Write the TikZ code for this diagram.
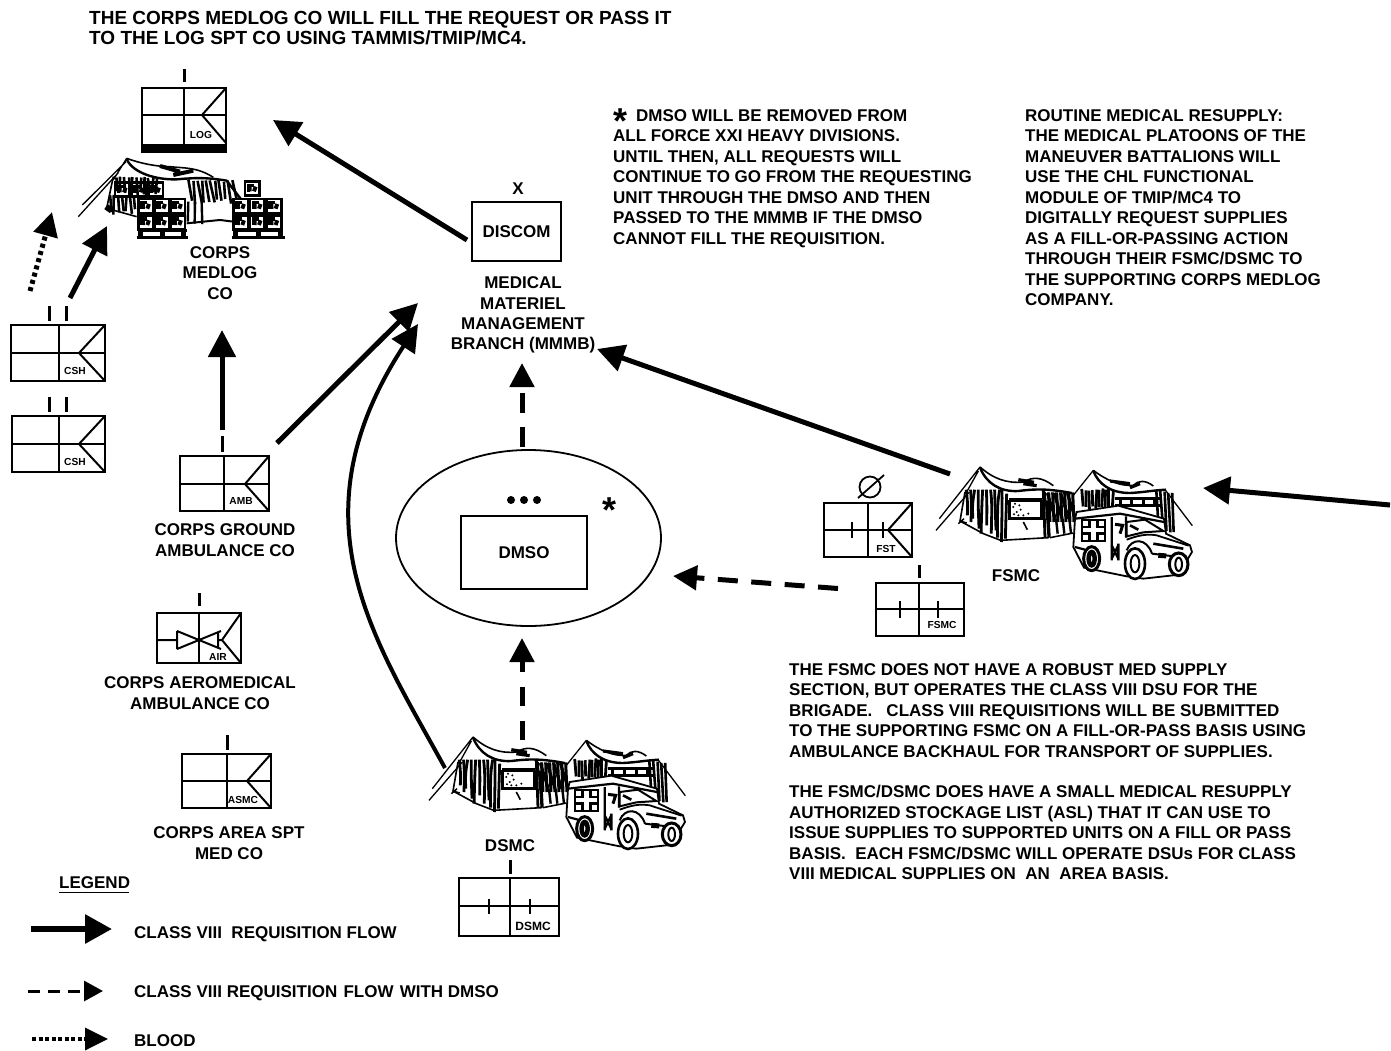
\documentclass[tikz,border=0pt]{standalone}
\usepackage{fontspec}
\setmainfont{Liberation Sans}
\usetikzlibrary{arrows.meta}
\tikzset{
  txt/.style={font=\bfseries\fontsize{17}{20.5}\selectfont,inner sep=0pt,align=left,anchor=north west},
  ctxt/.style={font=\bfseries\fontsize{17}{20.3}\selectfont,inner sep=0pt,align=center},
  small/.style={font=\bfseries\fontsize{10.2}{12}\selectfont,inner sep=0pt},
  starmark/.style={inner sep=0pt,font=\bfseries\fontsize{36}{36}\selectfont},
  ubox/.style={draw,line width=2pt,inner sep=0pt,fill=white},
  inner/.style={line width=2pt},
  tick/.style={line width=3pt},
  solidflow/.style={line width=5pt,-{Triangle[length=27pt,width=27pt]}},
  dashflow/.style={line width=5pt,dash pattern=on 19.5pt off 14.5pt,-{Triangle[length=24pt,width=24pt]}},
  dotflow/.style={line width=5pt,dash pattern=on 4pt off 3.5pt,-{Triangle[length=24pt,width=24pt]}},
}
% name, x1, y1, x2, y2, vertical x, middle y
\newcommand\unitbox[7]{%
  \pgfmathsetmacro\ubw{#4-#2}\pgfmathsetmacro\ubh{#5-#3}%
  \pgfmathsetmacro\ubx{(#2+#4)/2}\pgfmathsetmacro\uby{(#3+#5)/2}%
  \node[ubox,minimum width=\ubw pt,minimum height=\ubh pt] (#1) at (\ubx,\uby) {};
  \draw[inner] (#6,#3) -- (#6,#5) (#2,#7) -- (#4,#7);
}
% x2, y1, vertex x, middle y, y2
\newcommand\unitbracket[5]{\draw[inner] (#1,#2) -- (#3,#4) -- (#1,#5);}
\newcommand\crate[2]{%
  \draw[line width=2.4pt,fill=white] (#1,#2) rectangle ++(44,42);
  \draw[line width=3.6pt] (#1+10,#2+30) -- (#1+10,#2+11) -- (#1+26,#2+11);
  \draw[line width=5pt] (#1+24,#2+20) -- (#1+35,#2+24) (#1+14,#2+22) -- (#1+20,#2+22);
}
\newcommand\tenttruck[1]{%
\begin{scope}[shift={(#1)},x=.3333pt,y=-.3333pt,shift={(-510,-50)}]
  \pgfmathsetseed{41}
  \draw[line width=1.3pt] (510,50) -- (388,205) (378,240) -- (478,125) (505,62) -- (470,125);
  \draw[line width=1.6pt] (510,50) .. controls (550,85) and (590,100) .. (640,95) .. controls (670,78) and (695,80) .. (730,106);
  \draw[line width=2.4pt] (510,52) .. controls (530,100) and (570,125) .. (625,122) .. controls (660,118) and (700,112) .. (785,128);
  \draw[line width=3.2pt] (625,88) -- (672,96) (640,100) -- (680,106);
  \draw[line width=1.6pt] (465,125) -- (450,212) -- (520,250) -- (572,270) -- (715,262) -- (705,125);
  \foreach \q/\r in {468/195,480/215,492/205,504/235,516/250,528/225,540/250,554/240,566/262,576/275}
    \draw[line width=2.8pt] ({\q+3*rand},118) .. controls ({\q+6*rand},160) .. ({\q+5*rand},\r);
  \draw[line width=1.5pt] (450,212) -- (470,218) (445,220) -- (462,205);
  \draw[line width=2.8pt] (590,130) -- (586,265) (700,120) -- (705,262) (712,150) -- (718,262);
  \draw[line width=2.6pt] (598,152) rectangle (695,205);
  \draw[line width=4pt] (598,150) -- (695,150);
  \foreach \q/\r in {610/170,620/185,632/178,640/195,655/190,625/195,615/160,628/165,612/192}
    \fill (\q,\r) circle (3.4);
  \draw[line width=1.6pt] (640,215) -- (652,238);
  \foreach \q in {716,728,...,790}
    \draw[line width=3pt] (\q,126) -- (\q+4,215);
  \foreach \q in {712,732,...,772}
    \draw[line width=3pt] (\q,128) -- (\q+24,205);
  \foreach \q in {738,758,778}
    \draw[line width=2.4pt] (\q,205) -- (\q+5,250);
  \draw[line width=1.6pt] (720,262) -- (790,248);
  % second tent
  \draw[line width=1.3pt] (790,135) -- (850,60) (1065,118) -- (1147,226);
  \draw[line width=1.6pt] (850,60) .. controls (890,90) and (930,108) .. (970,105) .. controls (985,90) and (1005,88) .. (1030,107);
  \draw[line width=2.4pt] (850,62) .. controls (865,100) and (900,128) .. (960,128) .. controls (1000,126) and (1030,120) .. (1068,118);
  \draw[line width=3.2pt] (900,92) -- (960,100) (960,112) -- (990,100);
  \foreach \q in {818,828,...,910}
    \draw[line width=2.8pt] ({\q+3*rand},{118+4*rand}) -- ({\q+3*rand},{172+6*rand});
  \draw[line width=3pt] (915,145) -- (1050,145) (915,165) -- (1050,165);
  \foreach \q in {930,965,1000,1035}
    \draw[line width=3pt] (\q,145) -- (\q,165);
  \foreach \q in {1040,1052,...,1092}
    \draw[line width=2.6pt] ({\q+3*rand},{122+6*rand}) -- ({\q+6+3*rand},{240+8*rand});
  % truck
  \draw[line width=1.8pt,fill=white] (795,205) -- (800,185) -- (925,166) -- (1062,205) -- (1068,250) -- (1140,285) -- (1146,305) -- (1132,328) -- (1130,360) -- (1090,375) -- (1000,385) -- (950,378) -- (822,352) -- (790,290) -- cycle;
  \draw[line width=2.2pt] (795,205) -- (930,190) -- (1062,215);
  \draw[line width=2.2pt] (905,200) -- (905,330) (948,198) -- (948,262) (795,290) -- (825,298);
  \draw[line width=2.2pt] (815,208) rectangle (885,272);
  \draw[line width=2.6pt] (838,208) -- (838,230) -- (815,230) (862,208) -- (862,230) -- (885,230) (815,250) -- (838,250) -- (838,272) (885,250) -- (862,250) -- (862,272);
  \draw[line width=2.4pt] (905,285) -- (925,325) (925,285) -- (905,325) (905,300) -- (925,300) (925,280) -- (925,330);
  \draw[line width=3pt] (915,222) -- (938,225) -- (930,250);
  \draw[line width=2pt] (950,215) -- (1005,208) -- (1060,242) -- (1000,246) -- (950,258) -- cycle;
  \draw[line width=1.8pt] (950,268) .. controls (985,255) and (1010,250) .. (1040,255) -- (1136,286);
  \draw[line width=2pt] (950,300) .. controls (965,262) and (1010,262) .. (1026,310) (1026,310) -- (1125,322);
  \draw[line width=2.6pt] (960,225) -- (985,238) (1030,280) -- (1120,295);
  \draw[line width=5pt,dash pattern=on 8pt off 6pt] (1045,315) -- (1115,320);
  \draw[line width=3pt,fill=white] (845,325) ellipse [x radius=24,y radius=36];
  \draw[line width=4.5pt] (845,325) ellipse [x radius=9,y radius=20];
  \draw[line width=3pt,fill=white] (1106,342) ellipse [x radius=28,y radius=34];
  \draw[line width=2pt] (1106,342) ellipse [x radius=10,y radius=20];
  \draw[line width=2.6pt,fill=white] (975,340) ellipse [x radius=30,y radius=46];
  \draw[line width=2pt] (975,340) ellipse [x radius=13,y radius=26];
\end{scope}}
\begin{document}
\begin{tikzpicture}[x=1pt,y=-1pt]
\useasboundingbox[fill=white] (0,0) rectangle (1391,1050);

% ---- free ends of the connectors
\coordinate (logTip) at (273,120);   \coordinate (discomOut) at (467,240);
\coordinate (bloodOut) at (30,291);  \coordinate (bloodTip) at (52,212);
\coordinate (cshOut) at (70,298);    \coordinate (medlogIn) at (107,226);
\coordinate (ambUpOut) at (222,430); \coordinate (coLabelIn) at (222,330);
\coordinate (ambOut) at (277,443);   \coordinate (mmmbInA) at (418,303);
\coordinate (dsmcOut) at (445,768);  \coordinate (mmmbInB) at (418,324);
\coordinate (dmsoUp) at (522,446.5); \coordinate (mmmbInC) at (522,363);
\coordinate (dsmcUp) at (522,740);   \coordinate (dmsoInB) at (522,638);
\coordinate (fsmcDash) at (838,588.5); \coordinate (dmsoInA) at (673,576);
\coordinate (fsmcOut) at (950,474);  \coordinate (mmmbInD) at (597,349);
\coordinate (rightOut) at (1390,505);\coordinate (fsmcIn) at (1203,488);
\coordinate (legA) at (31,929);      \coordinate (legAt) at (112,929);
\coordinate (legB) at (28,991);      \coordinate (legBt) at (103,991);
\coordinate (legC) at (32,1039);     \coordinate (legCt) at (108,1039);

% ---- top text
\node[txt,font=\bfseries\fontsize{19}{20.3}\selectfont] (topnote) at (89,11) {THE CORPS MEDLOG CO WILL FILL THE REQUEST OR PASS IT\\TO THE LOG SPT CO USING TAMMIS/TMIP/MC4.};

% ---- LOG unit
\draw[tick] (184,69) -- (184,82);
\unitbox{log}{142}{88}{226}{152}{184}{115}
\fill (142,143.5) rectangle (226,152.5);
\unitbracket{226}{88}{202}{115}{143}
\node[small] (loglbl) at (201,135) {LOG};

% ---- Corps MEDLOG tent and pallets
\begin{scope}[shift={(0,60)},x=.3333pt,y=-.3333pt]
  \pgfmathsetseed{17}
  \draw[line width=1.3pt] (247,435) -- (378,305) (235,470) -- (355,338) (380,295) -- (340,360);
  \draw[line width=1.6pt] (380,295) .. controls (420,310) and (470,320) .. (510,320) .. controls (550,325) and (590,320) .. (640,352);
  \draw[line width=2.4pt] (380,298) .. controls (400,340) and (470,360) .. (530,358) .. controls (570,355) and (610,350) .. (680,362) -- (725,420);
  \draw[line width=4pt] (480,318) -- (540,335) (520,345) -- (580,332);
  \draw[line width=1.6pt] (340,350) -- (320,445) -- (410,470);
  \draw[line width=6pt] (318,440) -- (335,452);
  \foreach \q in {332,344,...,405}
    \draw[line width=2.6pt] ({\q+3*rand},405) -- ({\q+5*rand},{455+10*rand});
  \foreach \q in {565,578,...,700}
    \draw[line width=2.6pt] ({\q+3*rand},{362+4*rand}) -- ({\q+12+6*rand},{425+8*rand});
  \foreach \q in {565,585,605}
    \draw[line width=2.4pt] (\q,425) -- ({\q+5*rand},{490+5*rand});
  \draw[line width=2pt] (560,490) -- (660,480) -- (700,485);
  \crate{345}{368}\crate{395}{368}\crate{445}{368}
  \foreach \q in {350,362,...,480}
    \draw[line width=2.6pt] ({\q+3*rand},{352+3*rand}) -- ({\q+4*rand},{395+14*rand});
  \foreach \q in {415,463,511}{\crate{\q}{417}\crate{\q}{466}}
  \foreach \q in {700,750,800}{\crate{\q}{417}\crate{\q}{466}}
  \crate{735}{365}
  \foreach \q/\r in {415/560,700/850}{
    \draw[line width=2.5pt] (\q,512) -- (\r,512);
    \draw[line width=3pt] (\q-5,533) -- (\r+5,533);
    \draw[line width=5pt] (\q+8,512) -- (\q+8,533) ({(\q+\r)/2},512) -- ({(\q+\r)/2},533) (\r-8,512) -- (\r-8,533);
  }
\end{scope}
\node[ctxt] (medloglbl) at (220,273) {CORPS\\MEDLOG\\CO};

% ---- CSH units
\draw[tick] (49,306) -- (49,321) (66,306) -- (66,321);
\unitbox{cshA}{11}{325}{105}{381}{58.5}{353}
\unitbracket{105}{325}{79}{353}{381}
\node[small] (cshAl) at (75,371) {CSH};
\draw[tick] (49,397) -- (49,412) (66,397) -- (66,412);
\unitbox{cshB}{12}{416}{105}{472}{58.5}{444}
\unitbracket{105}{416}{79}{444}{472}
\node[small] (cshBl) at (75,462) {CSH};

% ---- Ground ambulance
\draw[tick] (222,436) -- (222,452);
\unitbox{amb}{180}{456}{269}{511}{224}{484}
\unitbracket{269}{456}{245}{484}{511}
\node[small] (ambl) at (241,501) {AMB};
\node[ctxt] (amblbl) at (225,540) {CORPS GROUND\\AMBULANCE CO};

% ---- Air ambulance
\draw[tick] (199,593) -- (199,606);
\unitbox{air}{157}{613}{241}{663}{199}{663}
\draw[inner] (199,613) -- (199,663);
\unitbracket{241}{613}{222}{640}{663}
\draw[inner] (157,640) -- (177,640) (177,631) -- (221,649) (221,631) -- (177,649) (177,631) -- (177,649) (218,632) -- (218,648) (218,640) -- (222,640);
\node[small] (airl) at (218,657) {AIR};
\node[ctxt] (airlbl) at (200,693) {CORPS AEROMEDICAL\\AMBULANCE CO};

% ---- Area support
\draw[tick] (227,735) -- (227,750);
\unitbox{asmc}{182}{754}{271}{808}{227}{781}
\unitbracket{271}{754}{247}{781}{808}
\node[small] (asmcl) at (243,800) {ASMC};
\node[ctxt] (asmclbl) at (229,843) {CORPS AREA SPT\\MED CO};

% ---- DISCOM
\node[ctxt] (xlbl) at (518,189) {X};
\node[ubox,minimum width=89pt,minimum height=59pt,font=\bfseries\fontsize{17}{18}\selectfont] (discom) at (516.5,231.5) {\raisebox{-2.5pt}{DISCOM}};
\node[ctxt] (mmmblbl) at (523,315) {MEDICAL\\MATERIEL\\MANAGEMENT\\BRANCH (MMMB)};

% ---- DMSO ellipse
\draw[line width=1.8pt] (528.5,538) ellipse [x radius=132.5,y radius=88];
\foreach \q in {511,524,537} \fill (\q,500) circle (4);
\node[starmark] (starA) at (609,502) {\smash{\raisebox{-20pt}{*}}};
\node[ubox,minimum width=126pt,minimum height=73pt,font=\bfseries\fontsize{17}{18}\selectfont] (dmso) at (524,552.5) {\raisebox{-3.5pt}{DMSO}};

% ---- notes
\node[starmark] (starB) at (620,113) {\smash{\raisebox{-20pt}{*}}};
\node[txt] (noteAa) at (636,109) {DMSO WILL BE REMOVED FROM};
\node[txt] (noteA) at (613,129.5) {ALL FORCE XXI HEAVY DIVISIONS.\\UNTIL THEN, ALL REQUESTS WILL\\CONTINUE TO GO FROM THE REQUESTING\\UNIT THROUGH THE DMSO AND THEN\\PASSED TO THE MMMB IF THE DMSO\\CANNOT FILL THE REQUISITION.};
\node[txt] (noteB) at (1025,109) {ROUTINE MEDICAL RESUPPLY:\\THE MEDICAL PLATOONS OF THE\\MANEUVER BATTALIONS WILL\\USE THE CHL FUNCTIONAL\\MODULE OF TMIP/MC4 TO\\DIGITALLY REQUEST SUPPLIES\\AS A FILL-OR-PASSING ACTION\\THROUGH THEIR FSMC/DSMC TO\\THE SUPPORTING CORPS MEDLOG\\COMPANY.};
\node[txt] (noteC) at (789,663) {THE FSMC DOES NOT HAVE A ROBUST MED SUPPLY\\SECTION, BUT OPERATES THE CLASS VIII DSU FOR THE\\BRIGADE.\ \ \ CLASS VIII REQUISITIONS WILL BE SUBMITTED\\TO THE SUPPORTING FSMC ON A FILL-OR-PASS BASIS USING\\AMBULANCE BACKHAUL FOR TRANSPORT OF SUPPLIES.};
\node[txt] (noteD) at (789,785) {THE FSMC/DSMC DOES HAVE A SMALL MEDICAL RESUPPLY\\AUTHORIZED STOCKAGE LIST (ASL) THAT IT CAN USE TO\\ISSUE SUPPLIES TO SUPPORTED UNITS ON A FILL OR PASS\\BASIS.\ \ EACH FSMC/DSMC WILL OPERATE DSUs FOR CLASS\\VIII MEDICAL SUPPLIES ON\ \ AN\ \ AREA BASIS.};

% ---- tents with ambulances
\tenttruck{980,467}
\tenttruck{473,737}
\node[ctxt] (fsmclbl) at (1016,576) {FSMC};
\node[ctxt] (dsmclbl) at (510,846) {DSMC};

% ---- DSMC unit
\draw[tick] (510,860) -- (510,874);
\unitbox{dsmcu}{459}{878}{559}{936}{510}{906}
\draw[inner] (489,899) -- (489,914) (530,899) -- (530,914);
\node[small,font=\bfseries\fontsize{12}{12}\selectfont] (dsmcl) at (533,926) {DSMC};

% ---- FST
\draw[line width=1.8pt] (870,487) circle (10.5);
\draw[line width=1.8pt] (858,498) -- (884,475);
\unitbox{fst}{824}{503}{912}{557}{868}{530}
\unitbracket{912}{503}{888}{530}{557}
\draw[inner] (852,522) -- (852,538) (883,522) -- (883,538);
\node[small] (fstl) at (886,549) {FST};

% ---- FSMC unit
\draw[tick] (919,565) -- (919,578);
\unitbox{fsmcu}{876}{583}{964}{636}{919}{609}
\draw[inner] (900,601) -- (900,618) (938,601) -- (938,618);
\node[small] (fsmcl) at (942,625) {FSMC};

% ---- connectors
\draw[solidflow] (discomOut) -- (logTip);
\draw[dotflow] (bloodOut) -- (bloodTip);
\draw[solidflow] (cshOut) -- (medlogIn);
\draw[solidflow] (ambUpOut) -- (coLabelIn);
\draw[solidflow] (ambOut) -- (mmmbInA);
\draw[solidflow,line width=4pt] (dsmcOut) .. controls (375,640) and (290,520) .. (mmmbInB);
\draw[dashflow] (dmsoUp) -- (mmmbInC);
\draw[dashflow] (dsmcUp) -- (dmsoInB);
\draw[dashflow,dash pattern=on 20pt off 13.5pt] (fsmcDash) -- (dmsoInA);
\draw[solidflow] (fsmcOut) -- (mmmbInD);
\draw[solidflow] (rightOut) -- (fsmcIn);

% ---- legend
\node[txt,anchor=west] (legt) at (59,883) {LEGEND};
\draw[line width=1.2pt] (59,892.5) -- (129,892.5);
\draw[line width=6pt,-{Triangle[length=27pt,width=28pt]}] (legA) -- (legAt);
\draw[line width=3pt,dash pattern=on 12pt off 8pt,-{Triangle[length=19pt,width=20pt]}] (legB) -- (legBt);
\draw[line width=3.5pt,dash pattern=on 4pt off 2.5pt,-{Triangle[length=23pt,width=22pt]}] (legC) -- (legCt);
\node[txt,anchor=west] (leg1) at (134,934) {CLASS VIII\ \ REQUISITION FLOW};
\node[txt,anchor=west] (leg2) at (134,993) {CLASS VIII REQUISITION\hspace{1.5pt} FLOW\hspace{1.5pt} WITH DMSO};
\node[txt,anchor=west] (leg3) at (134,1041) {BLOOD};
\end{tikzpicture}
\end{document}
